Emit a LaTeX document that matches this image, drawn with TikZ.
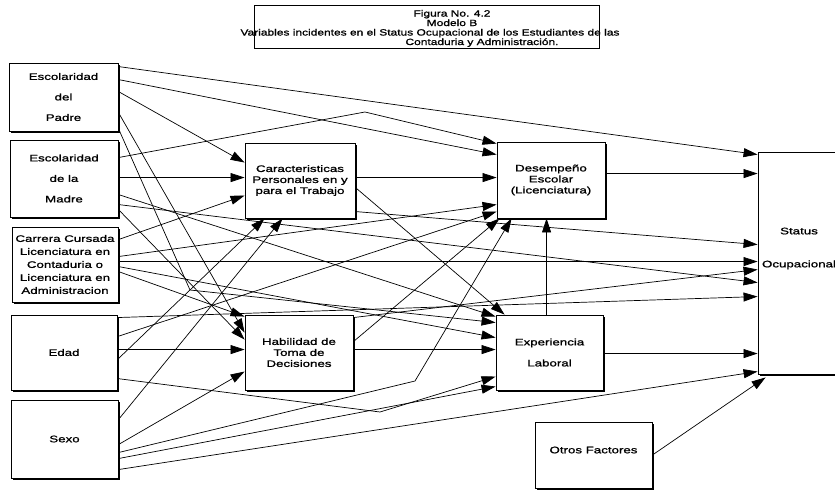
\documentclass[tikz,border=0pt]{standalone}
\usepackage{fontspec}
\setmainfont{Liberation Sans}
\newfontfamily\boxfont{Liberation Sans}[FakeStretch=1.4,FakeBold=1.2]
\newfontfamily\titlefont{Liberation Sans}[FakeStretch=1.33,FakeBold=1.2]
\usetikzlibrary{arrows.meta,shadows}
\begin{document}
\begin{tikzpicture}[x=1pt,y=-1pt,
  bx/.style={draw,line width=0.9pt,fill=white,inner sep=0pt,
    drop shadow={shadow xshift=1.5pt,shadow yshift=-1.5pt,fill=black,opacity=1}},
  txt/.style={font=\boxfont\fontsize{9.5}{11}\selectfont,align=center,inner sep=0pt},
  ttl/.style={font=\titlefont\fontsize{9}{10}\selectfont,anchor=base,inner sep=0pt},
  ar/.style={line width=0.7pt,-{Triangle[length=14pt,width=9pt]}}]
\clip (0,0) rectangle (835,490);
\fill[white] (0,0) rectangle (835,490);

% title
\node[draw,line width=0.9pt,minimum width=345pt,minimum height=43pt,inner sep=0pt] (title) at (427,27) {};
\node[ttl] (t1) at (452,16.5) {Figura No. 4.2};
\node[ttl] (t2) at (452,26) {Modelo B};
\node[ttl] (t3) at (430,35.5) {Variables incidentes en el Status Ocupacional de los Estudiantes de las};
\node[ttl] (t4) at (482,45) {Contaduria y Administración.};

% left boxes
\node[bx,txt,minimum width=109pt,minimum height=68pt] (padre) at (63.5,97) {Escolaridad\\[9.5pt]del\\[9.5pt]Padre};
\node[bx,txt,minimum width=108pt,minimum height=77pt] (madre) at (64,178.5) {Escolaridad\\[9.5pt]de la\\[9.5pt]Madre};
\node[bx,txt,minimum width=106pt,minimum height=75pt] (carrera) at (65,264.5) {Carrera Cursada\\[2pt]Licenciatura en\\[2pt]Contaduria o\\[2pt]Licenciatura en\\[2pt]Administracion};
\node[bx,txt,minimum width=106pt,minimum height=75pt] (edad) at (64,352.5) {Edad};
\node[bx,txt,minimum width=107pt,minimum height=78pt] (sexo) at (64.5,439) {Sexo};

% middle boxes
\node[bx,txt,minimum width=110pt,minimum height=75pt] (car) at (300,180.5) {Caracteristicas\\Personales en y\\para el Trabajo};
\node[bx,txt,minimum width=108pt,minimum height=76pt] (des) at (551,180) {Desempeño\\Escolar\\(Licenciatura)};
\node[bx,txt,minimum width=108pt,minimum height=75pt] (hab) at (299,352.5) {Habilidad de\\Toma de\\Decisiones};
\node[bx,txt,minimum width=107pt,minimum height=75pt] (exp) at (549.5,352.5) {Experiencia\\[10pt]Laboral};
\node[bx,minimum width=117pt,minimum height=66pt] (otros) at (593.5,455) {};
\node[txt] (otxt) at (593.5,450) {Otros Factores};
\node[bx,minimum width=100pt,minimum height=222pt] (status) at (808,263) {};
\node[txt] (stxt) at (799,248.5) {Status\\[22pt]Ocupacional};

% bend points
\coordinate (mbend) at (365,112);
\coordinate (pbend) at (190,290);
\coordinate (ebend) at (380,412);
\coordinate (sbend) at (415,381);

% Padre
\draw[ar] ([yshift=-4pt]padre.north east) -- ([yshift=-3pt]status.north west);
\draw[ar] ([yshift=-17pt]padre.north east) -- ([yshift=-13pt]des.north west);
\draw[ar] ([yshift=-29pt]padre.north east) -- ([yshift=-20pt]car.north west);
\draw[ar] ([yshift=-50pt]padre.north east) -- ([yshift=-18pt]hab.north west);
\draw[ar] ([yshift=-66pt]padre.north east) -- (pbend) -- ([yshift=-8pt]exp.north west);

% Madre
\draw[ar] ([yshift=-18pt]madre.north east) -- (mbend) -- ([yshift=-2pt]des.north west);
\draw[ar] ([yshift=-38pt]madre.north east) -- ([yshift=-35pt]car.north west);
\draw[ar] ([yshift=-55pt]madre.north east) -- ([yshift=-2pt]exp.north west);
\draw[ar] ([yshift=-65pt]madre.north east) -- ([yshift=-131pt]status.north west);
\draw[ar] ([yshift=-70pt]madre.north east) -- ([yshift=-25pt]hab.north west);

% Carrera
\draw[ar] ([yshift=-13pt]carrera.north east) -- ([yshift=-53pt]car.north west);
\draw[ar] ([yshift=-30pt]carrera.north east) -- ([yshift=-63pt]des.north west);
\draw[ar] ([yshift=-35pt]carrera.north east) -- ([yshift=-110pt]status.north west);
\draw[ar] ([yshift=-40pt]carrera.north east) -- ([yshift=-23pt]exp.north west);
\draw[ar] ([yshift=-45pt]carrera.north east) -- ([yshift=-2pt]hab.north west);

% Edad
\draw[ar] ([yshift=-3pt]edad.north east) -- ([yshift=-145pt]status.north west);
\draw[ar] ([yshift=-22pt]edad.north east) -- ([yshift=-70pt]des.north west);
\draw[ar] ([yshift=-35pt]edad.north east) -- ([yshift=-35pt]hab.north west);
\draw[ar] ([yshift=-45pt]edad.north east) -- ([xshift=20pt]car.south west);
\draw[ar] ([yshift=-64pt]edad.north east) -- (ebend) -- ([yshift=-62pt]exp.north west);

% Sexo
\draw[ar] ([yshift=-20pt]sexo.north east) -- ([xshift=38pt]car.south west);
\draw[ar] ([yshift=-45pt]sexo.north east) -- ([yshift=-57pt]hab.north west);
\draw[ar] ([yshift=-53pt]sexo.north east) -- (sbend) -- ([xshift=15pt]des.south west);
\draw[ar] ([yshift=-59pt]sexo.north east) -- ([yshift=-72pt]exp.north west);
\draw[ar] ([yshift=-70pt]sexo.north east) -- ([yshift=-220pt]status.north west);

% mediators
\draw[ar] ([yshift=-35pt]car.north east) -- ([yshift=-36pt]des.north west);
\draw[ar] ([yshift=-69pt]car.north east) -- ([yshift=-93pt]status.north west);
\draw[ar] ([yshift=-45pt]car.north east) -- ([xshift=9pt]exp.north west);
\draw[ar] ([yshift=-27pt]hab.north east) -- ([xshift=3pt]des.south west);
\draw[ar] ([yshift=-35pt]hab.north east) -- ([yshift=-35pt]exp.north west);
\draw[ar] ([yshift=-3pt]hab.north east) -- ([yshift=-118pt]status.north west);
\draw[ar] ([xshift=51pt]exp.north west) -- ([xshift=50pt]des.south west);
\draw[ar] ([yshift=-39pt]exp.north east) -- ([yshift=-202pt]status.north west);
\draw[ar] ([yshift=-32pt]des.north east) -- ([yshift=-22pt]status.north west);
\draw[ar] (otros.east) -- ([xshift=8pt,yshift=-3pt]status.south west);
\end{tikzpicture}
\end{document}
